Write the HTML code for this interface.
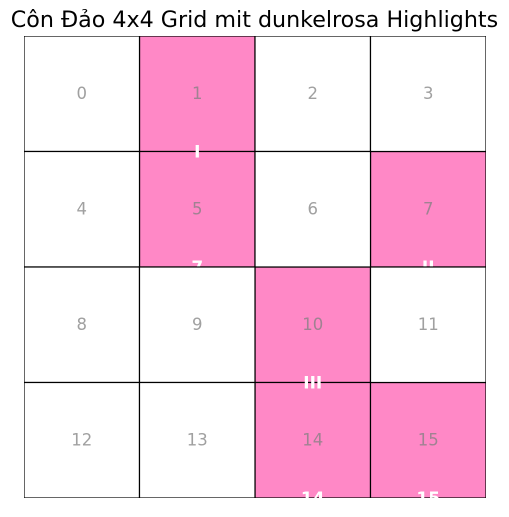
<!DOCTYPE html>
<html><head><meta charset="utf-8"><style>
html,body{margin:0;padding:0;background:#fff;}
svg{display:block;font-family:"Liberation Sans","DejaVu Sans",sans-serif;}
</style></head><body>
<svg id="chart" width="509" height="517">
<text x="254.5" y="27" text-anchor="middle" font-size="22.2" fill="#000" font-family="DejaVu Sans, sans-serif">Côn Đảo 4x4 Grid mit dunkelrosa Highlights</text>
<defs><clipPath id="ax"><rect x="24" y="36" width="462" height="462"/></clipPath></defs>
<g id="g" clip-path="url(#ax)"></g>
</svg>
<script>
const cellIds=[0,1,2,3,4,5,6,7,8,9,10,11,12,13,14,15];
const highlighted=[1,5,7,10,14,15];
const highlightLabels=["I","7","II","III","14","15"];
const x0=24,y0=36,cs=115.5;
const NS="http://www.w3.org/2000/svg";
const g=document.getElementById('g');
function mk(t,a){const e=document.createElementNS(NS,t);for(const k in a)e.setAttribute(k,a[k]);return e;}
function cx(i){return x0+(i%4)*cs;}
function cy(i){return y0+Math.floor(i/4)*cs;}
cellIds.filter(i=>highlighted.includes(i)).forEach(i=>{
  const r=mk('rect',{x:cx(i),y:cy(i),width:cs,height:cs,fill:'#ff88c6',stroke:'#000','stroke-width':1.2});
  
  
  g.appendChild(r);
});
highlighted.forEach((i,k)=>{
  const t=mk('text',{x:cx(i)+cs/2,y:cy(i)+cs+6,'text-anchor':'middle','font-size':17,'font-weight':'bold',fill:'#fff','font-family':'DejaVu Sans, sans-serif'});
  t.textContent=highlightLabels[k];
  
  
  g.appendChild(t);
});
cellIds.filter(i=>!highlighted.includes(i)).forEach(i=>{
  const r=mk('rect',{x:cx(i),y:cy(i),width:cs,height:cs,fill:'#fff',stroke:'#000','stroke-width':1.2});
  
  
  g.appendChild(r);
});
cellIds.forEach(i=>{
  const t=mk('text',{x:cx(i)+cs/2,y:cy(i)+cs/2+5,'text-anchor':'middle','font-size':16.5,fill:'#808080','fill-opacity':0.75,'font-family':'DejaVu Sans, sans-serif'});
  t.textContent=String(i);
  
  
  g.appendChild(t);
});
</script>
</body></html>
